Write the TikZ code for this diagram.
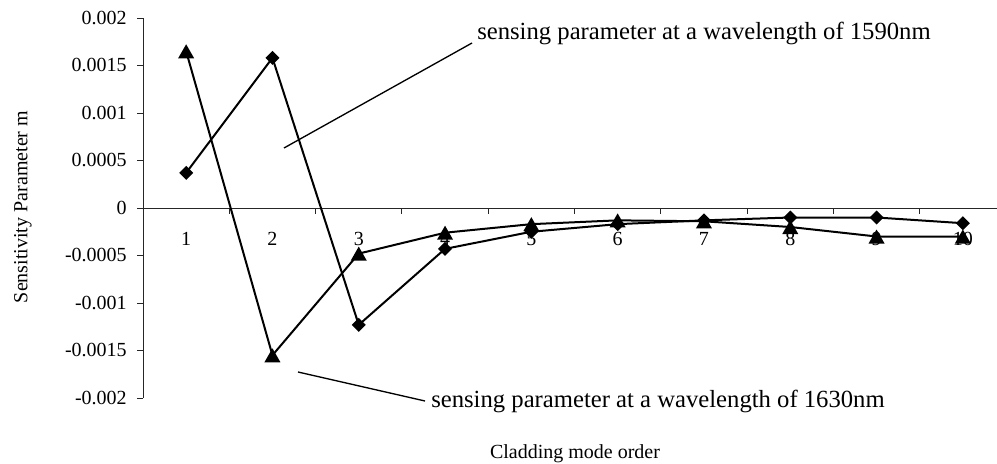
\documentclass[tikz,border=0pt]{standalone}
\usepackage{fontspec}
\setmainfont{Liberation Serif}
\begin{document}
\begin{tikzpicture}[x=0.75pt,y=-0.75pt,
  axisline/.style={line width=0.75pt, draw=black!85},
  series/.style={line width=1.5pt, line join=miter},
  noteline/.style={line width=1pt},
  ticklab/.style={font=\fontsize{15}{17}\selectfont, inner sep=0pt},
  titlelab/.style={font=\fontsize{15}{17}\selectfont, inner sep=0pt},
  notelab/.style={font=\fontsize{18.5}{20}\selectfont, inner sep=0pt},
  dmd/.pic={\fill (0,-7) -- (7,0) -- (0,7) -- (-7,0) -- cycle;},
  tri/.pic={\fill (0,-7) -- (8,7) -- (-8,7) -- cycle;}
]
\useasboundingbox (0,0) rectangle (997,464);
% axes
\coordinate (ytop) at (143,18);
\coordinate (ybot) at (143,398);
\coordinate (xorg) at (143,208);
\coordinate (xend) at (997,208);
\draw[axisline] (ytop) -- (ybot);
\draw[axisline] (xorg) -- (xend);
\foreach \k/\t in {4/0.002, 3/0.0015, 2/0.001, 1/0.0005, 0/0, -1/-0.0005, -2/-0.001, -3/-0.0015, -4/-0.002}{
  \coordinate (yt\k) at (143,{208-47.5*\k});
  \draw[axisline] (yt\k) -- ++(-6,0);
  \node[ticklab, anchor=base east] (yl\k) at (127,{208-47.5*\k+6.3}) {\t};
}
\foreach \k in {1,...,9}{
  \coordinate (xt\k) at ({143+86.3*\k},208);
  \draw[axisline] (xt\k) -- ++(0,6);
}
\foreach \i in {1,...,10}{
  \node[ticklab, anchor=base] (xl\i) at ({99.85+86.3*\i},245) {\i};
}
\node[titlelab, rotate=90] (ytitle) at (23,207) {Sensitivity Parameter m};
\node[titlelab, anchor=base] (xtitle) at (575,458) {Cladding mode order};
% data
\foreach \i/\v in {1/3.7, 2/15.8, 3/-12.3, 4/-4.3, 5/-2.5, 6/-1.7, 7/-1.3, 8/-1.0, 9/-1.0, 10/-1.6}{
  \coordinate (d\i) at ({99.85+86.3*\i},{208-9.5*\v});
}
\foreach \i/\v in {1/16.5, 2/-15.5, 3/-4.8, 4/-2.6, 5/-1.7, 6/-1.3, 7/-1.4, 8/-2.0, 9/-3.0, 10/-3.0}{
  \coordinate (t\i) at ({99.85+86.3*\i},{208-9.5*\v});
}
\draw[series] (d1) -- (d2) -- (d3) -- (d4) -- (d5) -- (d6) -- (d7) -- (d8) -- (d9) -- (d10);
\foreach \i in {1,...,10}{ \pic at (d\i) {dmd}; }
\draw[series] (t1) -- (t2) -- (t3) -- (t4) -- (t5) -- (t6) -- (t7) -- (t8) -- (t9) -- (t10);
\foreach \i in {1,...,10}{ \pic at (t\i) {tri}; }
% annotations
\coordinate (n1s) at (284,148);
\coordinate (n1e) at (472,43);
\draw[noteline] (n1s) -- (n1e);
\node[notelab, anchor=base west] (note1) at (477,40) {sensing parameter at a wavelength of 1590nm};
\coordinate (n2s) at (298,372);
\coordinate (n2e) at (425,401);
\draw[noteline] (n2s) -- (n2e);
\node[notelab, anchor=base west] (note2) at (431,407) {sensing parameter at a wavelength of 1630nm};
\end{tikzpicture}
\end{document}
